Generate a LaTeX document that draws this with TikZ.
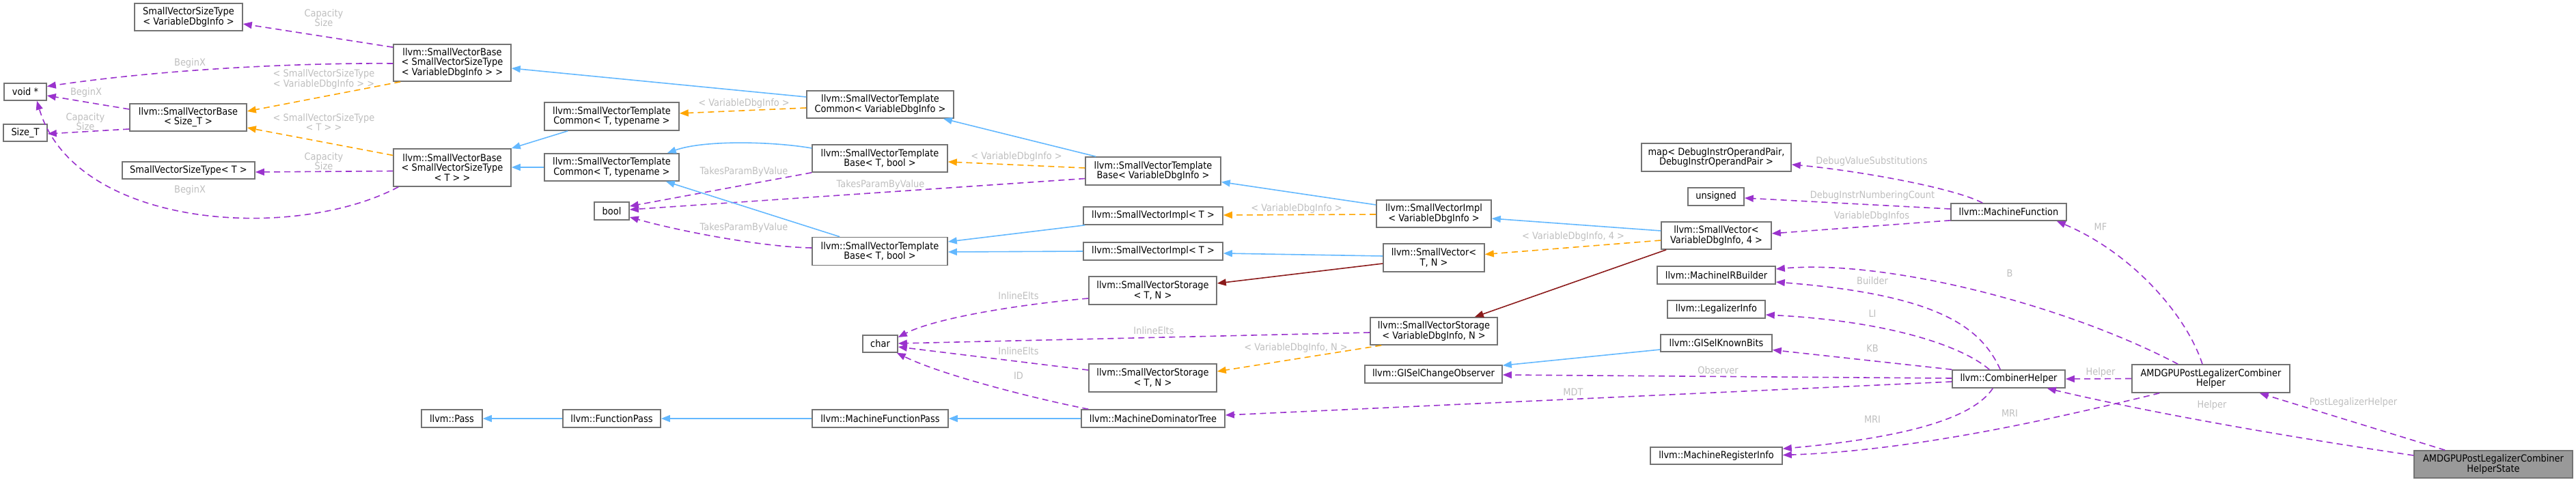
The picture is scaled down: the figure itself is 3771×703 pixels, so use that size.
\documentclass[tikz,border=0pt]{standalone}
\usepackage{fontspec}
\setmainfont{DejaVu Sans}[FakeStretch=0.9]
\usetikzlibrary{arrows.meta,calc}
\definecolor{inhblue}{HTML}{63B8FF}
\definecolor{usepurple}{HTML}{9A32CD}
\definecolor{tmplorange}{HTML}{FFA500}
\definecolor{privred}{HTML}{8B1A1A}
\definecolor{boxgray}{HTML}{737373}
\definecolor{lblgray}{HTML}{BEBEBE}
\definecolor{mainfill}{HTML}{999999}
\tikzset{
  box/.style={draw=boxgray, line width=1.6pt, fill=white, inner sep=0pt, align=center,
    font=\fontsize{14.4}{14.4}\selectfont},
  mainbox/.style={box, fill=mainfill},
  lbl/.style={text=lblgray, inner sep=0pt, align=center, font=\fontsize{14.4}{14.4}\selectfont},
  etip/.style={-{Triangle[length=13pt,width=10pt]}},
  einh/.style={draw=inhblue, line width=1.6pt, etip},
  euse/.style={draw=usepurple, line width=1.6pt, dash pattern=on 9pt off 6pt, etip},
  etmpl/.style={draw=tmplorange, line width=1.6pt, dash pattern=on 9pt off 6pt, etip},
  epriv/.style={draw=privred, line width=1.6pt, etip},
}
\begin{document}
\begin{tikzpicture}[x=1pt,y=-1pt]
\useasboundingbox (0,0) rectangle (3771,703);

% ---------- nodes ----------
\node[box, minimum width=158, minimum height=40] (svstV) at (276,25) {SmallVectorSizeType\\< VariableDbgInfo >};
\node[box, minimum width=172, minimum height=54] (svbA) at (662,92) {llvm::SmallVectorBase\\< SmallVectorSizeType\\< VariableDbgInfo > >};
\node[box, minimum width=62, minimum height=25] (voidp) at (37,134.5) {void *};
\node[box, minimum width=64, minimum height=25] (sizeT) at (37,194.5) {Size\_T};
\node[box, minimum width=171, minimum height=40] (svbS) at (275.5,172) {llvm::SmallVectorBase\\< Size\_T >};
\node[box, minimum width=194, minimum height=25] (svstT) at (276,249.5) {SmallVectorSizeType< T >};
\node[box, minimum width=172, minimum height=55] (svbT) at (662,245.5) {llvm::SmallVectorBase\\< SmallVectorSizeType\\< T > >};
\node[box, minimum width=197, minimum height=41] (svtc1) at (895.5,170.5) {llvm::SmallVectorTemplate\\Common< T, typename >};
\node[box, minimum width=197, minimum height=40] (svtc2) at (895.5,245) {llvm::SmallVectorTemplate\\Common< T, typename >};
\node[box, minimum width=51, minimum height=26] (bool) at (895.5,309) {bool};
\node[box, minimum width=215, minimum height=40] (svtcV) at (1288.5,153) {llvm::SmallVectorTemplate\\Common< VariableDbgInfo >};
\node[box, minimum width=198, minimum height=40] (svtb1) at (1288,232) {llvm::SmallVectorTemplate\\Base< T, bool >};
\node[box, minimum width=198, minimum height=41] (svtb2) at (1288,368) {llvm::SmallVectorTemplate\\Base< T, bool >};
\node[box, minimum width=51, minimum height=25] (charN) at (1288.5,503.5) {char};
\node[box, minimum width=89, minimum height=26] (pass) at (661.5,613) {llvm::Pass};
\node[box, minimum width=143, minimum height=26] (fpass) at (895.5,613) {llvm::FunctionPass};
\node[box, minimum width=199, minimum height=26] (mfpass) at (1288.5,613) {llvm::MachineFunctionPass};
\node[box, minimum width=198, minimum height=41] (svtbV) at (1688,250.5) {llvm::SmallVectorTemplate\\Base< VariableDbgInfo >};
\node[box, minimum width=204, minimum height=26] (svi1) at (1688,316) {llvm::SmallVectorImpl< T >};
\node[box, minimum width=204, minimum height=26] (svi2) at (1688,368) {llvm::SmallVectorImpl< T >};
\node[box, minimum width=187, minimum height=41] (svs1) at (1687.5,425.5) {llvm::SmallVectorStorage\\< T, N >};
\node[box, minimum width=187, minimum height=41] (svs2) at (1687.5,553.5) {llvm::SmallVectorStorage\\< T, N >};
\node[box, minimum width=210, minimum height=26] (mdt) at (1688,613) {llvm::MachineDominatorTree};
\node[box, minimum width=168, minimum height=40] (sviV) at (2099,313) {llvm::SmallVectorImpl\\< VariableDbgInfo >};
\node[box, minimum width=148, minimum height=41] (svTN) at (2099,377.5) {llvm::SmallVector<\\T, N >};
\node[box, minimum width=186, minimum height=40] (svsV) at (2099,485) {llvm::SmallVectorStorage\\< VariableDbgInfo, N >};
\node[box, minimum width=201, minimum height=26] (gco) at (2098.5,548) {llvm::GISelChangeObserver};
\node[box, minimum width=219, minimum height=41] (mapN) at (2512.5,230.5) {map< DebugInstrOperandPair,\\ DebugInstrOperandPair >};
\node[box, minimum width=82, minimum height=26] (unsig) at (2512,288) {unsigned};
\node[box, minimum width=161, minimum height=40] (svV4) at (2512.5,345) {llvm::SmallVector<\\VariableDbgInfo, 4 >};
\node[box, minimum width=173, minimum height=26] (mirb) at (2512.5,403) {llvm::MachineIRBuilder};
\node[box, minimum width=143, minimum height=26] (li) at (2512.5,453) {llvm::LegalizerInfo};
\node[box, minimum width=163, minimum height=25] (gkb) at (2512.5,502.5) {llvm::GISelKnownBits};
\node[box, minimum width=193, minimum height=25] (mri) at (2512.5,667.5) {llvm::MachineRegisterInfo};
\node[box, minimum width=169, minimum height=25] (mf) at (2940.5,310.5) {llvm::MachineFunction};
\node[box, minimum width=165, minimum height=26] (ch) at (2940.5,555) {llvm::CombinerHelper};
\node[box, minimum width=231, minimum height=41] (amdH) at (3236.5,554.5) {AMDGPUPostLegalizerCombiner\\Helper};
\node[mainbox, minimum width=232, minimum height=40] (hs) at (3650,680) {AMDGPUPostLegalizerCombiner\\HelperState};

% ---------- edges ----------
\draw[euse] ($(svbA.north west)+(0,5)$) -- ($(svstV.east)+(0,10)$);
\draw[euse] ($(svbA.west)+(0,1)$) .. controls (450,92) and (250,100) .. ($(voidp.east)+(0,-8)$);
\draw[etmpl] ($(svbA.south west)+(11,0)$) -- ($(svbS.east)+(0,-9)$);
\draw[euse] ($(svbS.west)+(0,-12)$) -- ($(voidp.east)+(0,5.5)$);
\draw[euse] ($(svbS.west)+(0,17)$) -- ($(sizeT.east)+(0,1.5)$);
\draw[etmpl] ($(svbT.west)+(0,-18)$) -- ($(svbS.east)+(0,15)$);
\draw[euse] ($(svbT.west)+(0,5)$) -- ($(svstT.east)+(0,2.5)$);
\draw[euse] ($(svbT.south west)+(8,0)$) .. controls (430,355) and (110,335) .. ($(voidp.south)+(17,0)$);
\draw[einh] ($(svtcV.west)+(0,-11)$) -- ($(svbA.east)+(0,8)$);
\draw[etmpl] ($(svtcV.west)+(0,5)$) -- ($(svtc1.east)+(0,-4.5)$);
\draw[einh] ($(svtc1.south west)+(35,0)$) -- (svbT.north east);
\draw[einh] (svtc2.west) -- ($(svbT.east)+(0,-0.5)$);
\draw[einh] ($(svtb1.west)+(0,-15)$) .. controls (1130,207) and (1030,205) .. ($(svtc2.north east)+(-18,0)$);
\draw[euse] (svtb1.south west) -- ($(bool.east)+(0,-7)$);
\draw[einh] ($(svtbV.north west)+(16,0)$) -- ($(svtcV.south east)+(-16,0)$);
\draw[etmpl] ($(svtbV.west)+(0,-4.5)$) -- ($(svtb1.east)+(0,5)$);
\draw[euse] ($(svtbV.west)+(0,11)$) -- ($(bool.east)+(0,-2)$);
\draw[einh] ($(svtb2.north west)+(41,0)$) -- ($(svtc2.south east)+(-20,0)$);
\draw[euse] ($(svtb2.west)+(0,-5)$) .. controls (1120,362) and (1000,340) .. ($(bool.east)+(0,9)$);
\draw[einh] ($(sviV.west)+(0,-13)$) -- ($(svtbV.east)+(0,16)$);
\draw[etmpl] ($(sviV.west)+(0,1)$) -- ($(svi1.east)+(0,-1)$);
\draw[einh] ($(svi1.south west)+(3,0)$) -- ($(svtb2.east)+(0,-14)$);
\draw[einh] (svi2.west) -- ($(svtb2.east)+(0,1)$);
\draw[einh] ($(svV4.west)+(0,-7)$) -- ($(sviV.east)+(0,7)$);
\draw[etmpl] ($(svV4.west)+(0,7)$) -- ($(svTN.east)+(0,-5)$);
\draw[epriv] ($(svV4.south west)+(8,0)$) -- ($(svsV.north east)+(-34,0)$);
\draw[einh] ($(svTN.west)+(0,-2.5)$) -- ($(svi2.east)+(0,3)$);
\draw[epriv] ($(svTN.west)+(0,8.5)$) -- ($(svs1.east)+(0,-10.5)$);
\draw[euse] ($(svs1.west)+(0,11.5)$) .. controls (1500,445) and (1370,465) .. ($(charN.east)+(0,-9.5)$);
\draw[euse] ($(svsV.west)+(0,2)$) -- ($(charN.east)+(0,-0.5)$);
\draw[etmpl] ($(svsV.south west)+(17,0)$) -- ($(svs2.east)+(0,-9.5)$);
\draw[euse] ($(svs2.west)+(0,-11.5)$) -- ($(charN.east)+(0,4.5)$);
\draw[euse] ($(mdt.north west)+(11,0)$) .. controls (1520,585) and (1380,550) .. ($(charN.south east)+(-2,0)$);
\draw[einh] (fpass.west) -- (pass.east);
\draw[einh] (mfpass.west) -- (fpass.east);
\draw[einh] (mdt.west) -- (mfpass.east);
\draw[euse] ($(mf.north west)+(47,0)$) .. controls (2860,275) and (2720,250) .. ($(mapN.east)+(0,10.5)$);
\draw[euse] ($(mf.west)+(0,-4.5)$) -- ($(unsig.east)+(0,2)$);
\draw[euse] ($(mf.south west)+(0,-1)$) -- ($(svV4.east)+(0,-3)$);
\draw[euse] ($(amdH.north)+(-12.5,0)$) .. controls (3200,460) and (3120,370) .. ($(mf.south east)+(-15,0)$);
\draw[euse] ($(amdH.north west)+(68,0)$) .. controls (3020,445) and (2760,380) .. ($(mirb.east)+(0,-9)$);
\draw[euse] (amdH.west) -- (ch.east);
\draw[euse] ($(ch.north west)+(71,0)$) .. controls (2900,480) and (2840,432) .. ($(mirb.east)+(0,10)$);
\draw[euse] ($(ch.north west)+(55,0)$) .. controls (2870,505) and (2760,470) .. ($(li.east)+(0,8)$);
\draw[euse] (ch.north west) -- ($(gkb.east)+(0,10)$);
\draw[euse] ($(ch.west)+(0,-1)$) -- ($(gco.east)+(0,1)$);
\draw[euse] ($(ch.west)+(0,4)$) -- ($(mdt.east)+(0,-5)$);
\draw[euse] ($(ch.south west)+(60,0)$) .. controls (2890,610) and (2800,640) .. ($(mri.north east)+(0,3)$);
\draw[euse] ($(amdH.south west)+(41,0)$) .. controls (3000,615) and (2800,660) .. ($(mri.east)+(0,-1)$);
\draw[euse] ($(hs.west)+(0,-13)$) .. controls (3350,640) and (3150,605) .. ($(ch.south east)+(-27,0)$);
\draw[euse] ($(hs.north west)+(46,0)$) -- ($(amdH.south east)+(-45,0)$);
\draw[einh] ($(gkb.west)+(0,9.5)$) -- ($(gco.north east)+(0,1)$);

% ---------- labels ----------
\node[lbl] (l01) at (474,26) {Capacity\\Size};
\node[lbl] (l02) at (278,93) {BeginX};
\node[lbl] (l03) at (474,116) {< SmallVectorSizeType\\< VariableDbgInfo > >};
\node[lbl] (l04) at (126,136) {BeginX};
\node[lbl] (l05) at (125,178) {Capacity\\Size};
\node[lbl] (l06) at (474,179) {< SmallVectorSizeType\\< T > >};
\node[lbl] (l07) at (474,236) {Capacity\\Size};
\node[lbl] (l08) at (278,279) {BeginX};
\node[lbl] (l09) at (1089,152) {< VariableDbgInfo >};
\node[lbl] (l10) at (1089,252) {TakesParamByValue};
\node[lbl] (l11) at (1488,230) {< VariableDbgInfo >};
\node[lbl] (l12) at (1289,271) {TakesParamByValue};
\node[lbl] (l13) at (1089,334) {TakesParamByValue};
\node[lbl] (l14) at (1898,306) {< VariableDbgInfo >};
\node[lbl] (l15) at (2303,347) {< VariableDbgInfo, 4 >};
\node[lbl] (l16) at (1491,433) {InlineElts};
\node[lbl] (l17) at (1689,484) {InlineElts};
\node[lbl] (l18) at (1897,510) {< VariableDbgInfo, N >};
\node[lbl] (l19) at (1491,514) {InlineElts};
\node[lbl] (l20) at (1491,550) {ID};
\node[lbl] (l21) at (2740,237) {DebugValueSubstitutions};
\node[lbl] (l22) at (2741,287) {DebugInstrNumberingCount};
\node[lbl] (l23) at (2740,317) {VariableDbgInfos};
\node[lbl] (l24) at (3075,332) {MF};
\node[lbl] (l25) at (2942,400) {B};
\node[lbl] (l26) at (2741,411) {Builder};
\node[lbl] (l27) at (2741,459) {LI};
\node[lbl] (l28) at (2741,510) {KB};
\node[lbl] (l29) at (2515,542) {Observer};
\node[lbl] (l30) at (2303,574) {MDT};
\node[lbl] (l31) at (2741,614) {MRI};
\node[lbl] (l32) at (2942,605) {MRI};
\node[lbl] (l33) at (3075,546) {Helper};
\node[lbl] (l34) at (3238,594) {Helper};
\node[lbl] (l35) at (3445,590) {PostLegalizerHelper};
\end{tikzpicture}
\end{document}
